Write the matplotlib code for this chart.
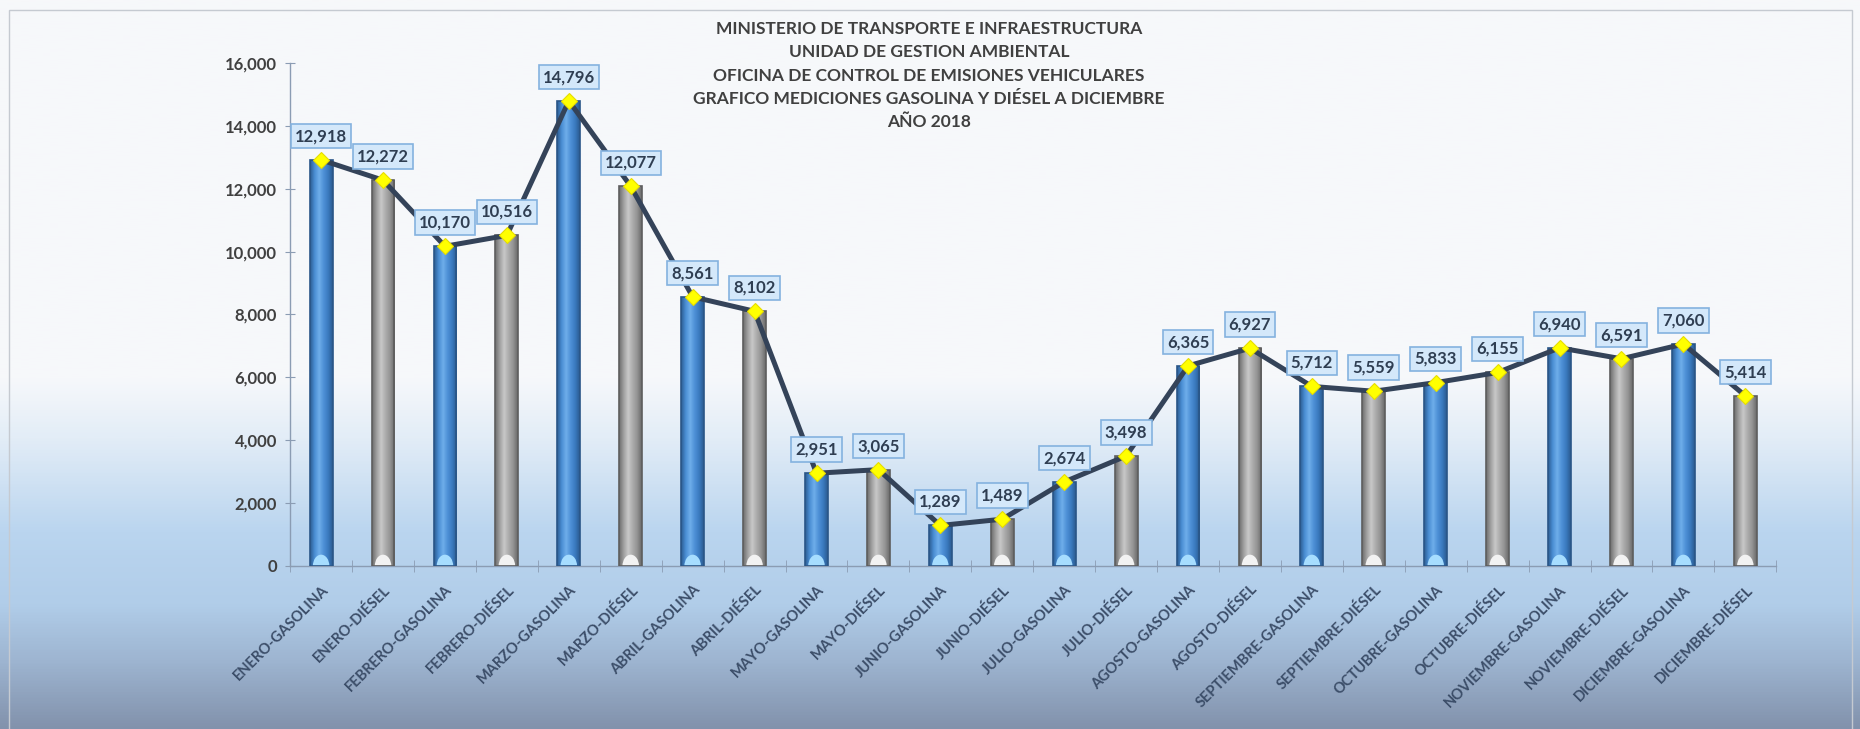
import matplotlib
matplotlib.use("Agg")
import matplotlib.pyplot as plt
import numpy as np
from matplotlib.colors import LinearSegmentedColormap
from matplotlib.patches import Ellipse, Rectangle

#---------------------------------------#
# DATA
#---------------------------------------#
MONTHS = ["ENERO", "FEBRERO", "MARZO", "ABRIL", "MAYO", "JUNIO", "JULIO",
          "AGOSTO", "SEPTIEMBRE", "OCTUBRE", "NOVIEMBRE", "DICIEMBRE"]
GASOLINA = [12918, 10170, 14796, 8561, 2951, 1289, 2674, 6365, 5712, 5833, 6940, 7060]
DIESEL = [12272, 10516, 12077, 8102, 3065, 1489, 3498, 6927, 5559, 6155, 6591, 5414]
FUELS = ["GASOLINA", "DIÉSEL"]
Y_TICKS = [0, 2000, 4000, 6000, 8000, 10000, 12000, 14000, 16000]
TITLE_LINES = ["MINISTERIO DE TRANSPORTE E INFRAESTRUCTURA",
               "UNIDAD DE GESTION AMBIENTAL",
               "OFICINA DE CONTROL DE EMISIONES VEHICULARES",
               "GRAFICO MEDICIONES GASOLINA Y DIÉSEL A DICIEMBRE",
               "AÑO 2018"]

#---------------------------------------#
# STYLE
#---------------------------------------#
plt.rcParams['font.family'] = ['Lato', 'DejaVu Sans']
BAR_W = 0.37
TEXT_DARK = '#404040'
AXIS_COL = '#8b9cb3'
LINE_COL = '#344359'

# gradients used for the bar bodies (left -> right)
BLUE_CMAP = LinearSegmentedColormap.from_list(
    'blue', ['#2c5d93', '#4a8ed4', '#6eaeea', '#4e90d6', '#3a7abf', '#2b5b90'])
GRAY_CMAP = LinearSegmentedColormap.from_list(
    'gray', ['#6c6c6c', '#a0a0a0', '#c8c8c8', '#acacac', '#939393', '#696969'])
BG_CMAP = LinearSegmentedColormap.from_list(
    'bg', [(0.0, '#f7f8fa'), (0.52, '#f6f8fb'), (0.60, '#e3edf7'),
           (0.73, '#bad5ef'), (0.83, '#b1cde9'), (0.91, '#9db4d0'), (1.0, '#8292ac')])

# interleave gasolina / diesel for every month
labels = []
values = []
kinds = []
for m, g, d in zip(MONTHS, GASOLINA, DIESEL):
    labels += [f"{m}-{FUELS[0]}", f"{m}-{FUELS[1]}"]
    values += [g, d]
    kinds += [0, 1]
x = np.arange(len(values))

#---------------------------------------#
# FIGURE
#---------------------------------------#
fig = plt.figure(figsize=(18.6, 7.29), dpi=100)

# background gradient
bg_ax = fig.add_axes([0, 0, 1, 1], zorder=-10)
bg_ax.imshow(np.linspace(0, 1, 512).reshape(-1, 1), cmap=BG_CMAP,
             aspect='auto', extent=[0, 1, 0, 1])
bg_ax.axis('off')
fig.patches.append(Rectangle((9 / 1860, -0.01), 1843 / 1860, 0.003 + 724 / 729,
                             transform=fig.transFigure, fill=False,
                             ec='#c5cad1', lw=1.0))

ax = fig.add_axes([0.156, 0.2236, 0.799, 0.690])
ax.patch.set_alpha(0)

grad = np.linspace(0, 1, 64).reshape(1, -1)
bars = ax.bar(x, values, BAR_W, fill=False, lw=1.2, zorder=3,
              edgecolor=['#2a5688' if k == 0 else '#5e5e5e' for k in kinds])
for xi, v, k, b in zip(x, values, kinds, bars):
    cmap = BLUE_CMAP if k == 0 else GRAY_CMAP
    img = ax.imshow(grad, cmap=cmap, aspect='auto', zorder=2,
                    extent=[xi - BAR_W / 2, xi + BAR_W / 2, 0, v])
    img.set_clip_path(b)
    # small light dome at the foot of each bar
    dome = Ellipse((xi, 0), BAR_W * 0.72, 720, zorder=2.5, lw=0,
                   fc='#a6ddff' if k == 0 else '#f2f2f2')
    ax.add_patch(dome)
    dome.set_clip_path(b)

# line with diamond markers
ax.plot(x, values, color=LINE_COL, lw=3.6, zorder=4, solid_joinstyle='round',
        marker='D', ms=8.5, mfc='#ffff00', mec='#e6dc00', mew=0.8)

# value labels
for xi, v in zip(x, values):
    ax.annotate(f"{v:,}", (xi, v), xytext=(0, 17), textcoords='offset points',
                ha='center', va='center', fontsize=12, fontweight='bold',
                color='#2f3e52', zorder=6,
                bbox=dict(boxstyle='square,pad=0.25', fc='#d4e8fa',
                          ec='#84b2df', lw=1.2))

ax.set_xlim(-0.5, len(values) - 0.5)
ax.set_ylim(0, 16000)

ax.set_yticks(Y_TICKS)
ax.set_yticklabels([f"{t:,}" for t in Y_TICKS])
ax.set_xticks(x)
ax.set_xticklabels(labels, rotation=45, ha='right', va='top',
                   rotation_mode='anchor')
ax.set_xticks(np.arange(len(values) + 1) - 0.5, minor=True)

ax.tick_params(axis='x', which='major', length=0, pad=12, labelsize=10.5,
               labelcolor='#3c4e69')
ax.tick_params(axis='x', which='minor', direction='inout', length=9,
               color=AXIS_COL)
ax.tick_params(axis='y', direction='inout', length=7, color=AXIS_COL,
               labelsize=12, labelcolor=TEXT_DARK, pad=6)
for lab in ax.get_xticklabels() + ax.get_yticklabels():
    lab.set_fontweight('bold')

for side in ['top', 'right']:
    ax.spines[side].set_visible(False)
for side in ['left', 'bottom']:
    ax.spines[side].set_color(AXIS_COL)
    ax.spines[side].set_linewidth(1.0)

# title block
fig.text(0.4995, 0.971, "\n".join(TITLE_LINES), ha='center', va='top',
         fontsize=12.5, fontweight='bold', color=TEXT_DARK, linespacing=1.56)

fig.savefig('out.png', dpi=100)
